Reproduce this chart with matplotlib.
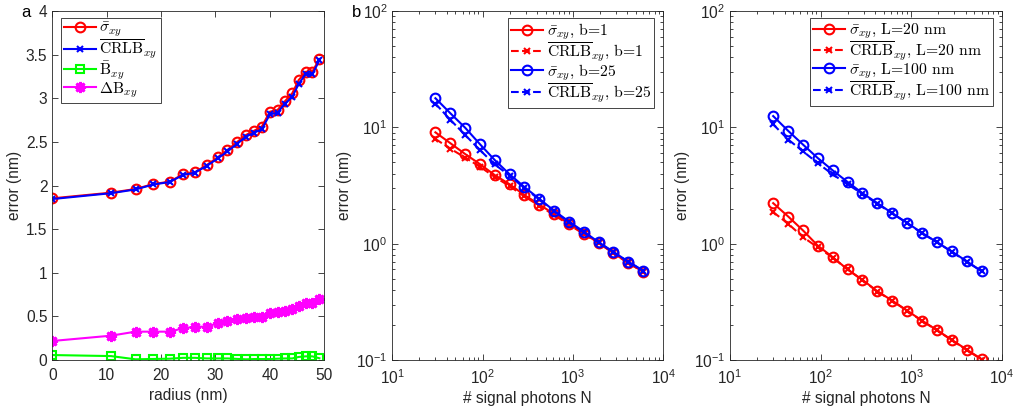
import matplotlib.pyplot as plt
import numpy as np
from matplotlib.ticker import FuncFormatter, FormatStrFormatter, LogLocator

# panel a: error vs radius
radius = [0, 10.8, 15.3, 18.6, 21.6, 24.0, 26.2, 28.4, 30.4, 32.2, 33.9,
          35.6, 37.1, 38.5, 40.0, 41.4, 42.8, 44.1, 45.3, 46.6, 47.8, 49.1]
sigma_a = [1.853, 1.918, 1.960, 2.017, 2.044, 2.128, 2.151, 2.235, 2.323, 2.407, 2.495,
           2.579, 2.628, 2.674, 2.846, 2.865, 2.968, 3.056, 3.209, 3.304, 3.304, 3.450]
crlb_a = [1.845, 1.912, 1.955, 2.012, 2.040, 2.120, 2.147, 2.225, 2.310, 2.390, 2.475,
          2.560, 2.605, 2.645, 2.815, 2.835, 2.940, 3.015, 3.165, 3.280, 3.275, 3.435]
bias_a = [0.057, 0.045, 0.008, 0.012, 0.015, 0.025, 0.025, 0.018, 0.018, 0.018, 0.013,
          0.008, 0.011, 0.011, 0.011, 0.015, 0.018, 0.018, 0.035, 0.042, 0.042, 0.020]
dbias_a = [0.218, 0.279, 0.325, 0.325, 0.325, 0.363, 0.382, 0.382, 0.420, 0.447, 0.470,
           0.485, 0.497, 0.497, 0.535, 0.546, 0.565, 0.581, 0.623, 0.650, 0.650, 0.696]

# panels b and c: error vs signal photons
photons = [30, 44, 64, 93, 136, 199, 290, 424, 618, 903, 1318, 1924, 2809, 4101, 5987]
sigma_b1 = [9.06, 7.30, 5.90, 4.84, 3.89, 3.24, 2.62, 2.17, 1.80, 1.49, 1.22, 1.02, 0.83, 0.68, 0.575]
crlb_b1 = [7.95, 6.55, 5.50, 4.60, 3.75, 3.12, 2.55, 2.12, 1.76, 1.46, 1.21, 1.01, 0.83, 0.68, 0.575]
sigma_b25 = [17.8, 13.2, 9.93, 7.19, 5.24, 3.95, 3.07, 2.43, 1.92, 1.55, 1.27, 1.03, 0.85, 0.70, 0.586]
crlb_b25 = [16.0, 11.6, 8.60, 6.40, 4.80, 3.85, 3.00, 2.40, 1.90, 1.53, 1.25, 1.03, 0.84, 0.70, 0.585]

sigma_L20 = [2.23, 1.71, 1.30, 0.964, 0.766, 0.600, 0.489, 0.390, 0.324, 0.266, 0.218, 0.181, 0.149, 0.123, 0.102]
crlb_L20 = [1.87, 1.48, 1.14, 0.930, 0.760, 0.600, 0.485, 0.388, 0.322, 0.265, 0.217, 0.180, 0.148, 0.122, 0.101]
sigma_L100 = [12.5, 9.31, 7.11, 5.45, 4.27, 3.39, 2.72, 2.23, 1.83, 1.51, 1.24, 1.03, 0.857, 0.707, 0.58]
crlb_L100 = [10.6, 7.85, 6.22, 4.93, 3.94, 3.24, 2.68, 2.20, 1.82, 1.50, 1.23, 1.03, 0.850, 0.700, 0.58]

plt.rcParams["font.family"] = ["Liberation Sans", "DejaVu Sans"]
plt.rcParams["mathtext.fontset"] = "cm"
plt.rcParams["font.size"] = 11

AX_COLOR = "#262626"
FS = 11.2
LW = 1.5
MS = 7

fig = plt.figure(figsize=(10.15, 4.13), dpi=100)
ax_a = fig.add_axes([0.0515, 0.1283, 0.268, 0.845])
ax_b = fig.add_axes([0.3865, 0.1283, 0.267, 0.845])
ax_c = fig.add_axes([0.7192, 0.1283, 0.2677, 0.845])


def style_axes(ax):
    for sp in ax.spines.values():
        sp.set_color(AX_COLOR)
        sp.set_linewidth(0.6)
    ax.tick_params(which="both", direction="in", top=True, right=True,
                   colors=AX_COLOR, labelsize=FS, width=0.6)
    ax.tick_params(which="major", length=4)
    ax.tick_params(which="minor", length=2)
    ax.tick_params(axis="x", which="major", pad=6)
    ax.set_ylabel("error (nm)", color=AX_COLOR, fontsize=FS, labelpad=3)


def legend(ax, loc, anchor):
    leg = ax.legend(loc=loc, bbox_to_anchor=anchor, borderaxespad=0,
                    prop={"family": "cmr10", "size": 11.3}, fancybox=False,
                    framealpha=1, edgecolor=AX_COLOR, handlelength=2.0,
                    handletextpad=0.25, labelspacing=-0.1, borderpad=0.2)
    leg.get_frame().set_linewidth(0.6)
    return leg


# panel a
ax_a.plot(radius, sigma_a, "-o", color="red", lw=LW, ms=MS, mfc="none", mew=LW,
          label=r"$\bar{\sigma}_{xy}$")
ax_a.plot(radius, crlb_a, "-x", color="blue", lw=LW, ms=5, mew=LW,
          label=r"$\overline{\mathrm{CRLB}}_{xy}$")
ax_a.plot(radius, bias_a, "-s", color="#00ff00", lw=LW, ms=6, mfc="none", mew=LW,
          label=r"$\bar{\mathrm{B}}_{xy}$")
ax_a.plot(radius, dbias_a, "-", marker=(8, 2, 0), color="magenta", lw=LW, ms=8, mew=LW + 0.5,
          label=r"$\Delta\mathrm{B}_{xy}$")
ax_a.set_xlim(0, 50)
ax_a.set_ylim(0, 4)
ax_a.set_xticks(np.arange(0, 51, 10))
ax_a.set_yticks(np.arange(0, 4.01, 0.5))
ax_a.yaxis.set_major_formatter(FormatStrFormatter("%g"))
ax_a.set_xlabel("radius (nm)", color=AX_COLOR, fontsize=FS, labelpad=3)
style_axes(ax_a)
legend(ax_a, "upper left", (8.7 / 272, 1 - 7 / 349))

log_fmt = FuncFormatter(lambda v, _: r"$\mathregular{10^{%d}}$" % int(round(np.log10(v))))

for ax, s1, c1, s2, c2, labels in [
    (ax_b, sigma_b1, crlb_b1, sigma_b25, crlb_b25, ["b=1", "b=25"]),
    (ax_c, sigma_L20, crlb_L20, sigma_L100, crlb_L100, ["L=20 nm", "L=100 nm"]),
]:
    ax.plot(photons, s1, "-o", color="red", lw=LW, ms=MS, mfc="none", mew=LW,
            label=r"$\bar{\sigma}_{xy}$, " + labels[0])
    ax.plot(photons, c1, "--x", color="red", lw=LW, ms=5, mew=LW,
            label=r"$\overline{\mathrm{CRLB}}_{xy}$, " + labels[0])
    ax.plot(photons, s2, "-o", color="blue", lw=LW, ms=MS, mfc="none", mew=LW,
            label=r"$\bar{\sigma}_{xy}$, " + labels[1])
    ax.plot(photons, c2, "--x", color="blue", lw=LW, ms=5, mew=LW,
            label=r"$\overline{\mathrm{CRLB}}_{xy}$, " + labels[1])
    ax.set_xscale("log")
    ax.set_yscale("log")
    ax.set_xlim(10, 1e4)
    ax.set_ylim(0.1, 100)
    ax.set_xticks([10, 100, 1000, 10000])
    ax.set_yticks([0.1, 1, 10, 100])
    ax.xaxis.set_minor_locator(LogLocator(base=10, subs=np.arange(2, 10), numticks=20))
    ax.yaxis.set_minor_locator(LogLocator(base=10, subs=np.arange(2, 10), numticks=20))
    ax.xaxis.set_major_formatter(log_fmt)
    ax.yaxis.set_major_formatter(log_fmt)
    ax.set_xlabel("# signal photons N", color=AX_COLOR, fontsize=FS, labelpad=3)
    style_axes(ax)
    legend(ax, "upper right", (1 - 9 / 271, 1 - 7 / 349))

fig.text(21 / 1015, 1 - 17 / 413, "a", fontsize=12, ha="left", va="baseline")
fig.text(352 / 1015, 1 - 17 / 413, "b", fontsize=12, ha="left", va="baseline")

fig.savefig("out.png", dpi=100)
